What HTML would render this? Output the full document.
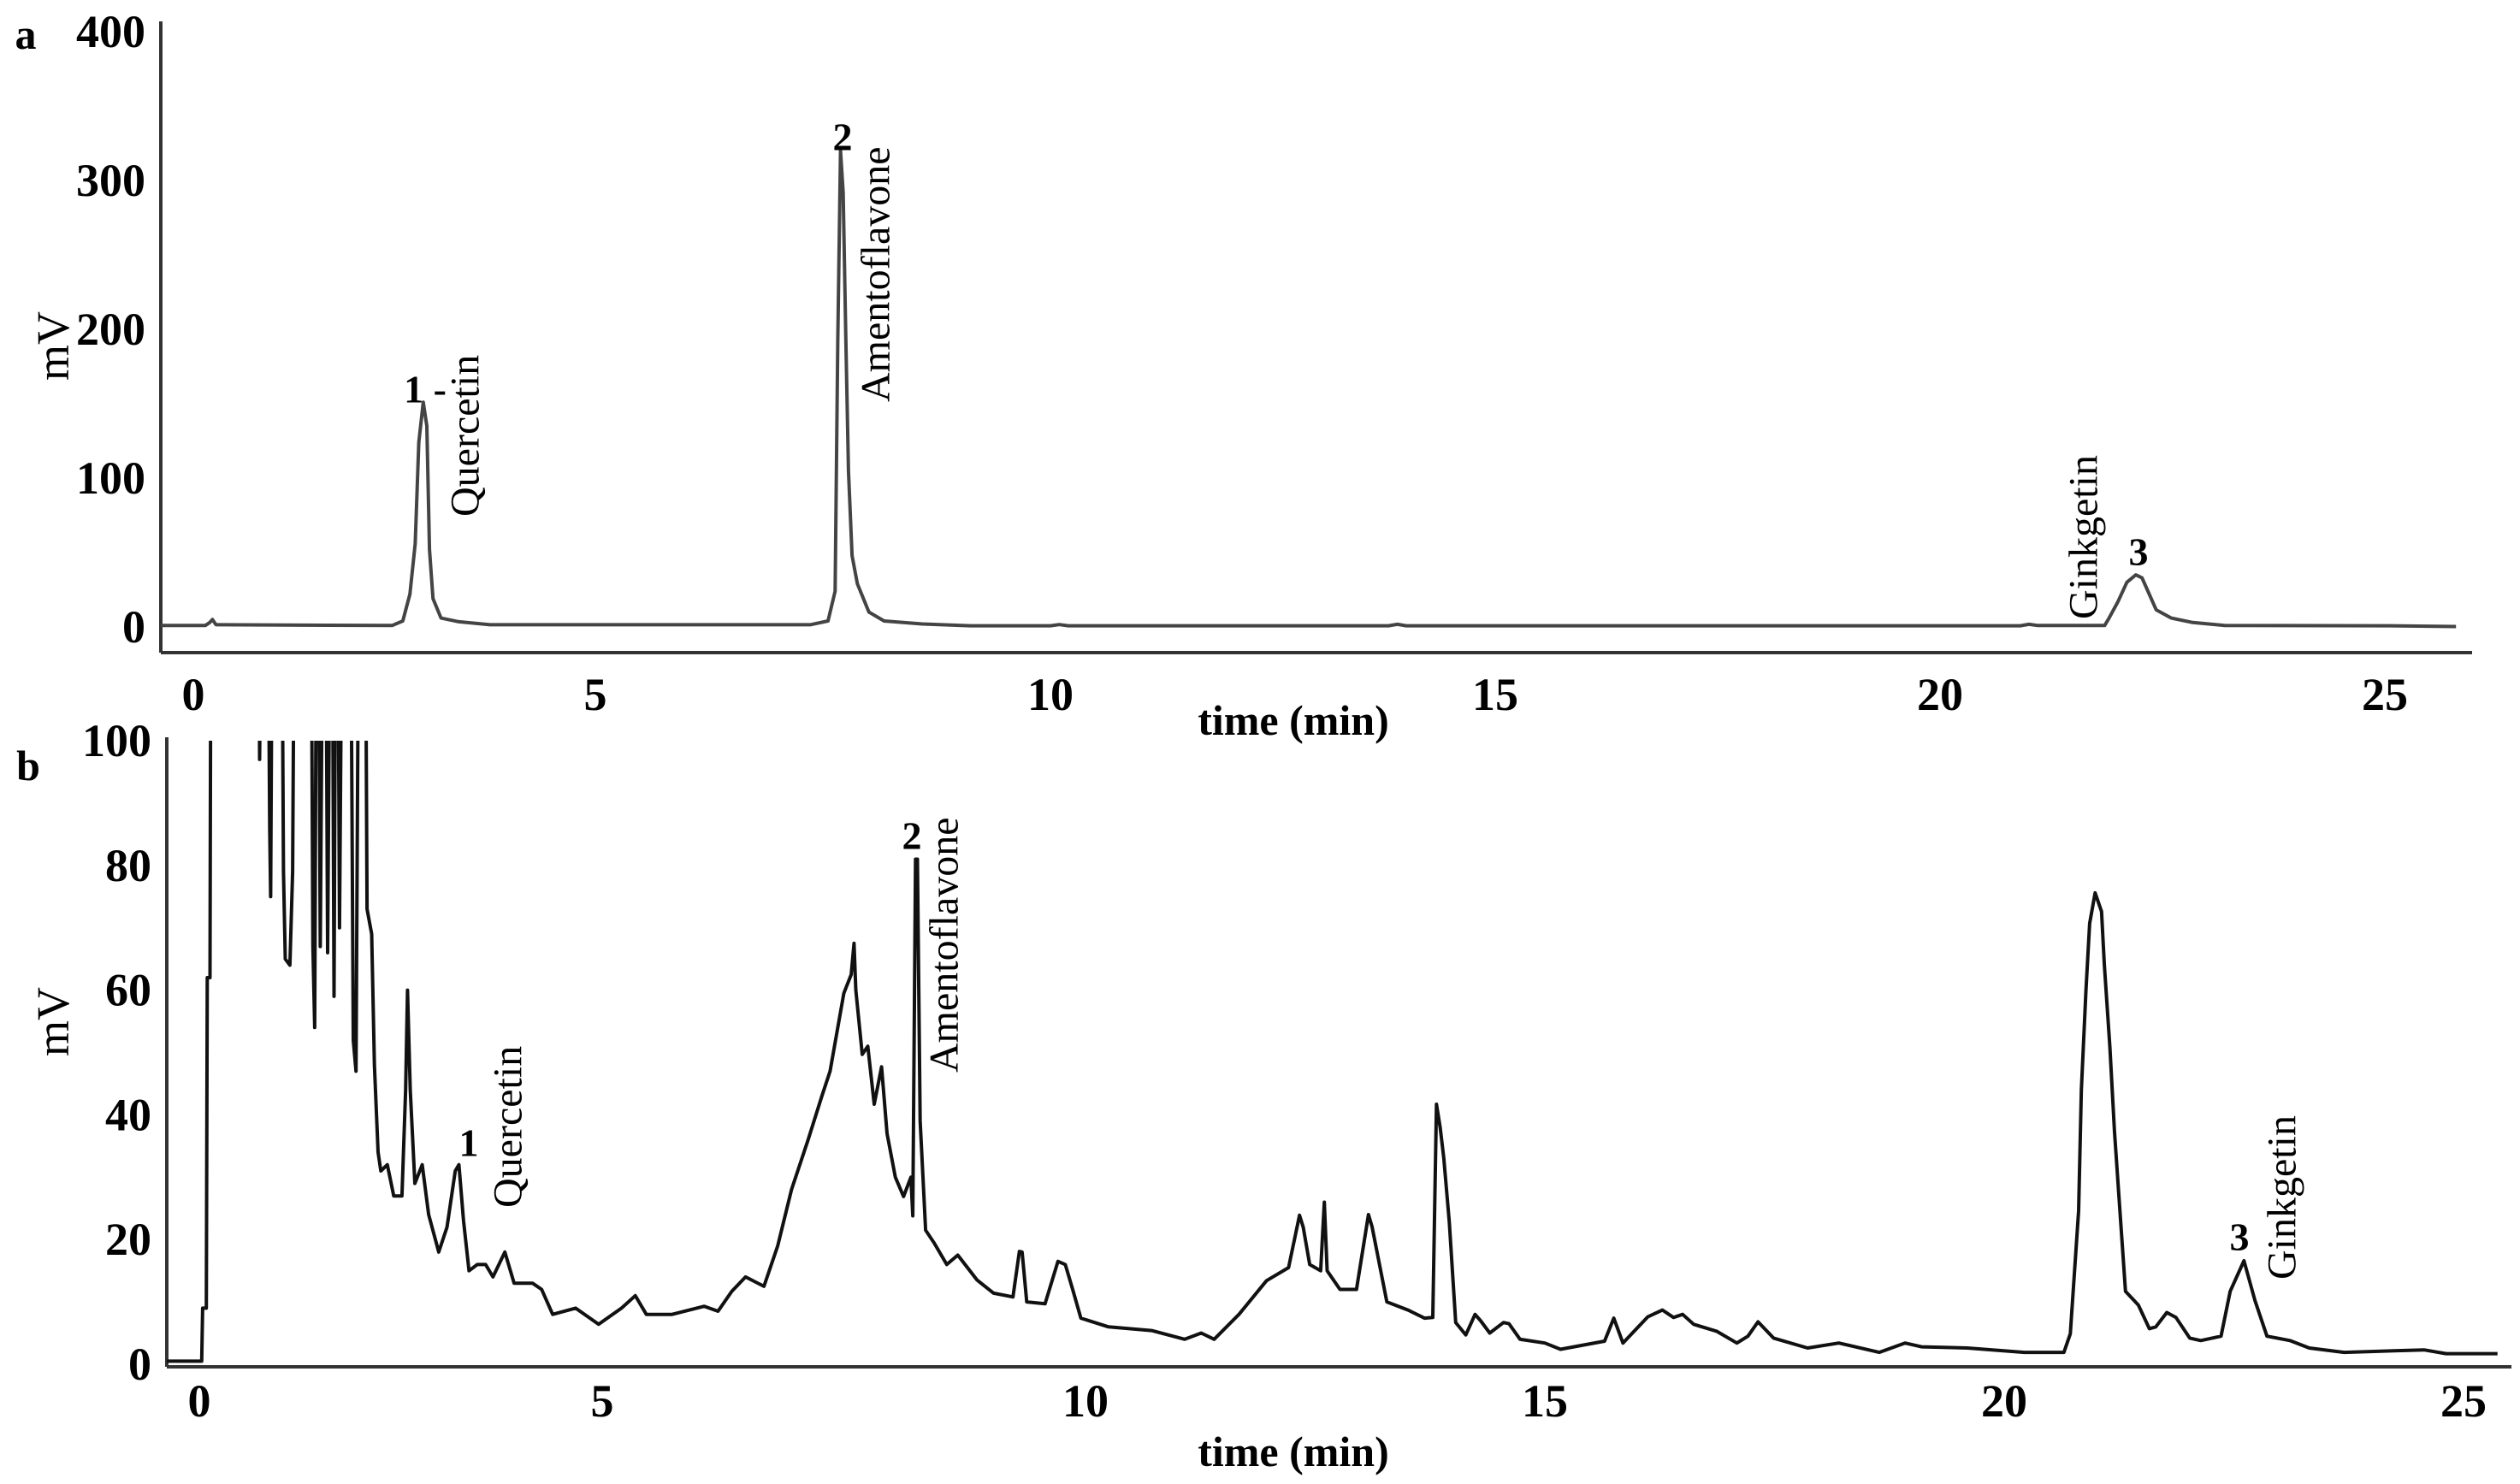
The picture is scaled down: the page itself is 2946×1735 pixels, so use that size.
<!DOCTYPE html>
<html><head><meta charset="utf-8"><style>
html,body{margin:0;padding:0;background:#fff;}
svg{display:block;}
text{font-family:"Liberation Serif",serif;fill:#000;}
.tick{font-weight:bold;font-size:54px;}
.ttl{font-weight:bold;font-size:50px;}
.lab{font-size:48px;}
.mv{font-size:54px;}
.num{font-size:46px;font-weight:bold;}
</style></head><body>
<svg id="chart" width="2946" height="1735" viewBox="0 0 2946 1735" xmlns="http://www.w3.org/2000/svg">
<defs><clipPath id="clipB"><rect x="190" y="866" width="2756" height="740"/></clipPath></defs>
<g id="panelA"></g>
<g id="panelB"></g>
</svg>
<script>
// Panel a data (time in min, signal in mV)
const aTimes=[0,0.5,0.55,0.58,0.62,2.6,2.72,2.80,2.86,2.9,2.95,2.99,3.02,3.06,3.15,3.35,3.7,7.3,7.5,7.58,7.61,7.64,7.67,7.70,7.73,7.77,7.83,7.96,8.13,8.56,9.1,10.0,10.1,10.2,13.8,13.9,14.0,20.9,21.0,21.1,21.85,21.9,22.0,22.1,22.2,22.27,22.33,22.43,22.6,22.84,23.2,25.0,25.8];
const aValues=[1,1,3,5,1.5,1,4,22,56,124,151,135,52,19,6,3.5,1.5,1.5,4,24,192,320,292,194,105,48,29,10,4,2,0.8,0.8,1.6,0.8,0.8,1.8,0.8,0.8,1.8,1,1,6,17,30,35,33,25,11.5,6,3,1,0.8,0.3];
const aYTicks=[0,100,200,300,400];
const xTicks=[0,5,10,15,20,25];
// Panel b data
const bTimes=[0,0.38,0.39,0.43,0.44,0.47,0.48,1.00,1.01,1.03,1.10,1.12,1.13,1.15,1.25,1.27,1.29,1.34,1.37,1.39,1.57,1.59,1.61,1.63,1.65,1.67,1.70,1.73,1.75,1.78,1.80,1.82,1.84,1.86,1.88,1.91,2.00,2.03,2.06,2.09,2.16,2.18,2.23,2.26,2.30,2.33,2.40,2.47,2.56,2.60,2.62,2.65,2.70,2.78,2.85,2.96,3.05,3.14,3.18,3.23,3.29,3.38,3.47,3.55,3.68,3.78,3.98,4.08,4.2,4.45,4.7,4.95,5.1,5.22,5.5,5.85,6.0,6.15,6.3,6.5,6.65,6.8,6.98,7.13,7.22,7.37,7.45,7.48,7.5,7.57,7.63,7.7,7.78,7.84,7.93,8.02,8.1,8.12,8.15,8.17,8.2,8.26,8.35,8.49,8.61,8.82,9.0,9.21,9.28,9.31,9.36,9.56,9.7,9.78,9.86,9.95,10.25,10.72,11.08,11.26,11.4,11.67,11.97,12.21,12.33,12.37,12.44,12.56,12.60,12.63,12.77,12.95,13.08,13.12,13.28,13.51,13.69,13.78,13.82,13.86,13.9,13.96,14.03,14.14,14.24,14.3,14.4,14.55,14.61,14.73,15.0,15.17,15.65,15.75,15.85,16.12,16.28,16.4,16.5,16.62,16.87,17.09,17.21,17.32,17.49,17.86,18.2,18.64,18.92,19.1,19.6,20.22,20.65,20.72,20.81,20.84,20.89,20.93,20.99,21.06,21.09,21.15,21.2,21.26,21.32,21.46,21.58,21.65,21.77,21.87,22.02,22.14,22.36,22.46,22.61,22.73,22.86,23.11,23.32,23.7,24.57,24.81,25.37];
const bValues=[0.5,0.5,9,9,62,62,130,130,97,130,130,86,75,130,130,79,65,64,79,130,130,67,54,130,130,67,130,130,66,130,130,59,130,130,70,130,130,52,47,130,130,73,69,48,34,31,32,27,27,44,60,44,29,32,24,18,22,31,32,23,15,16,16,14,18,13,13,12,8,9,6.4,9,11,8,8,9.3,8.5,11.7,14,12.5,19,28,36,43,47,59.5,62.5,67.5,60,49.7,51,41.7,47.7,37,30,26.9,30,23.8,81,81,39,21.5,19.5,16,17.5,13.5,11.4,10.8,18.1,18,10,9.7,16.5,16,12,7.4,6,5.4,4,5,4,8,13.4,15.5,23.9,22,16,15,26,15,12,12,24,22,10,8.7,7.4,7.5,41.7,38,33,22.8,6.7,4.7,8,7,5,6.7,6.5,4,3.4,2.4,3.7,7.4,3.4,7.6,8.7,7.5,8,6.4,5.3,3.4,4.5,6.8,4.2,2.6,3.4,1.9,3.4,2.8,2.6,1.9,1.9,4.9,24.6,44,60,70.7,75.6,72.6,64,51,37.4,24.6,11.7,9.5,5.7,6,8.3,7.5,4.2,3.8,4.5,11.7,16.6,10.2,4.5,3.8,2.6,1.9,2.3,1.7,1.7];
const bYTicks=[0,20,40,60,80,100];

const NS='http://www.w3.org/2000/svg';
function mk(tag,attrs,parent,txt){const e=document.createElementNS(NS,tag);for(const k in attrs)e.setAttribute(k,attrs[k]);if(txt!==undefined)e.textContent=txt;parent.appendChild(e);return e;}

// axis functions
const ax=t=>188+104*t, ay=v=>733-1.74*v;
const bx=t=>195+107.4*t, by=v=>1595-7.29*v;

function panel(g,xs,ys,times,vals,yTicks,opt){
  const yl=mk('line',{x1:opt.axX,y1:opt.axTop,x2:opt.axX,y2:opt.axY,stroke:'#333','stroke-width':4},g);
  
  
  const xl=mk('line',{x1:opt.axX,y1:opt.axY,x2:opt.axRight,y2:opt.axY,stroke:'#333','stroke-width':4},g);
  
  
  yTicks.forEach(v=>{
    const t=mk('text',{x:opt.axX-18,y:ys(v),'text-anchor':'end','dominant-baseline':'central',class:'tick'},g,String(v));
    
    
  });
  xTicks.forEach(v=>{
    const t=mk('text',{x:Math.max(xs(v)+opt.xOff(v),opt.axX+38),y:opt.xLabY,'text-anchor':'middle','dominant-baseline':'central',class:'tick'},g,String(v));
    
    
  });
  let d='';
  times.forEach((t,i)=>{d+=(i?'L':'M')+xs(t).toFixed(1)+','+ys(vals[i]).toFixed(1);});
  const p=mk('path',{d:d,fill:'none',stroke:opt.col,'stroke-width':4,'stroke-linejoin':'round'},g);
  if(opt.clip)p.setAttribute('clip-path','url(#'+opt.clip+')');
  
  
}
const gA=document.getElementById('panelA'), gB=document.getElementById('panelB');
panel(gA,ax,ay,aTimes,aValues,aYTicks,{axX:188,axTop:25,axY:763,axRight:2890,xLabY:812,col:'#444',xOff:v=>(v===5?-12:0)});
panel(gB,bx,by,bTimes,bValues,bYTicks,{axX:195,axTop:862,axY:1598,axRight:2936,xLabY:1638,col:'#111',clip:'clipB',xOff:v=>(v===5?-28:0)});

function txt(g,name,x,y,s,cls,rot){
  const a={x:x,y:y,class:cls};
  if(rot){a.transform='rotate(-90 '+x+' '+y+')';a['dominant-baseline']='central';a['text-anchor']='start';}
  else{a['text-anchor']='middle';a['dominant-baseline']='central';}
  const e=mk('text',a,g,s);
  
  
}
// panel a labels
txt(gA,'panel-letter-a',30,40,'a','ttl');
txt(gA,'y-axis-title',62,445,'mV','mv',true);
txt(gA,'x-axis-title',1512,842,'time (min)','ttl');
txt(gA,'peak-number-1',497,455,'1 -','num');
txt(gA,'quercetin-label',544,604,'Quercetin','lab',true);
txt(gA,'peak-number-2',985,160,'2','num');
txt(gA,'amentoflavone-label',1024,470,'Amentoflavone','lab',true);
txt(gA,'ginkgetin-label',2436,724,'Ginkgetin','lab',true);
txt(gA,'peak-number-3',2500,645,'3','num');
// panel b labels
txt(gB,'panel-letter-b',33,895,'b','ttl');
txt(gB,'y-axis-title',62,1235,'mV','mv',true);
txt(gB,'x-axis-title',1512,1697,'time (min)','ttl');
txt(gB,'peak-number-1',548,1336,'1','num');
txt(gB,'quercetin-label',594,1412,'Quercetin','lab',true);
txt(gB,'peak-number-2',1066,977,'2','num');
txt(gB,'amentoflavone-label',1104,1254,'Amentoflavone','lab',true);
txt(gB,'peak-number-3',2618,1446,'3','num');
txt(gB,'ginkgetin-label',2668,1496,'Ginkgetin','lab',true);
</script>
</body></html>
